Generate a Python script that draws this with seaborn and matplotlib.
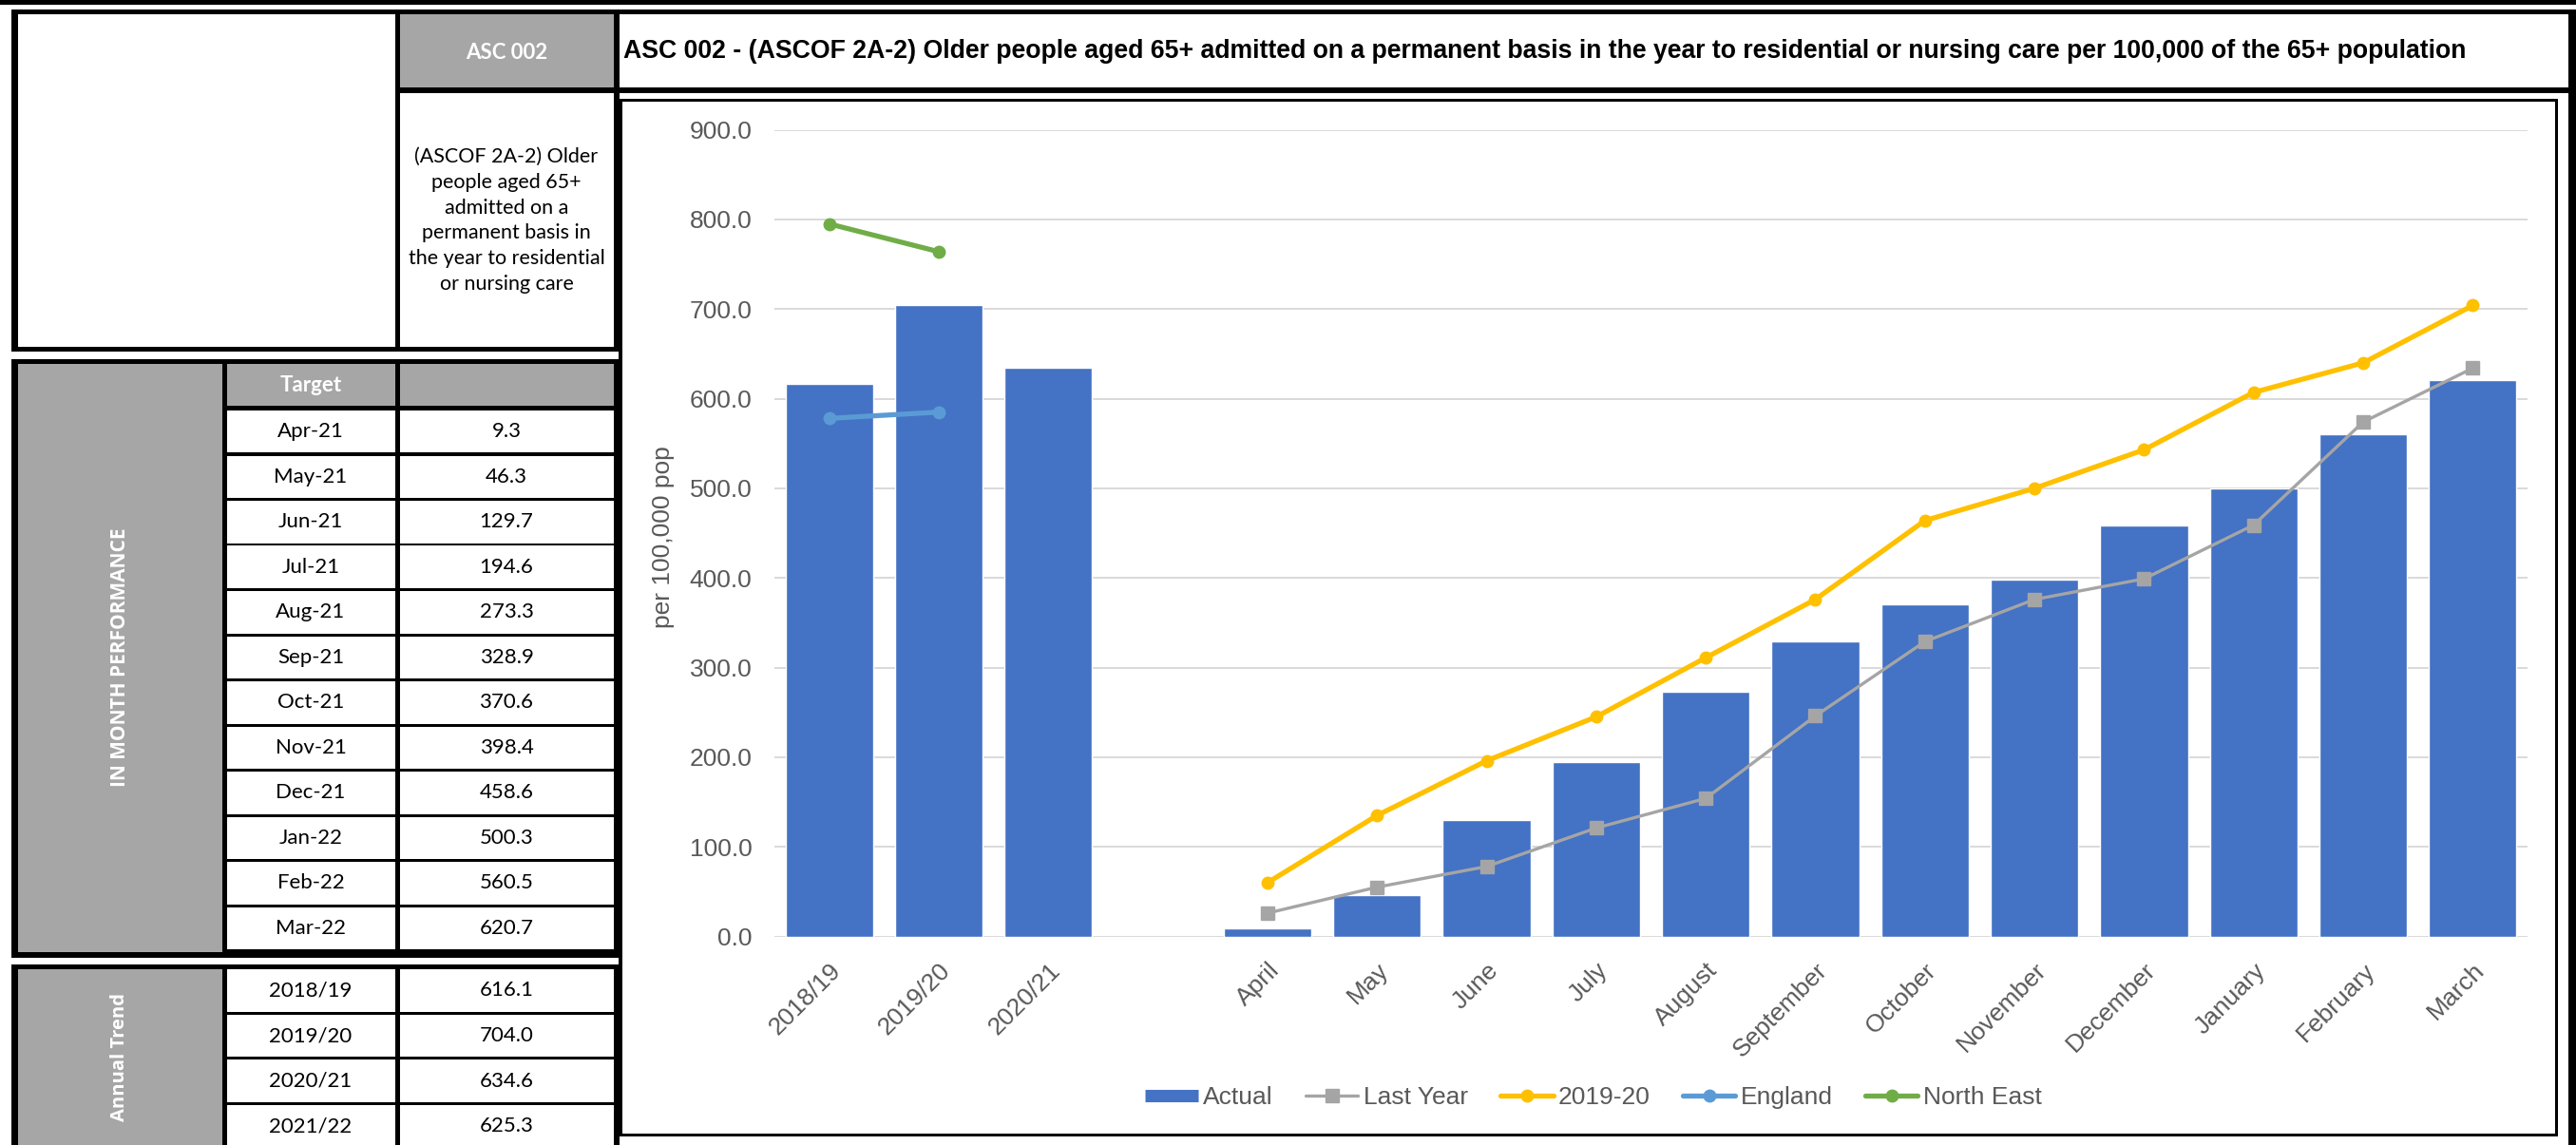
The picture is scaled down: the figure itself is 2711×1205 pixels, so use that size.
import numpy as np
import pandas as pd
import matplotlib
matplotlib.use('Agg')
import matplotlib.pyplot as plt
from matplotlib.patches import Rectangle
from matplotlib.lines import Line2D
import seaborn as sns

# =====================================
# Data
# =====================================
categories = ['2018/19', '2019/20', '2020/21', ' ', 'April', 'May', 'June', 'July',
              'August', 'September', 'October', 'November', 'December', 'January',
              'February', 'March']
actual = [616.1, 704.0, 634.6, np.nan, 9.3, 46.3, 129.7, 194.6, 273.3, 328.9,
          370.6, 398.4, 458.6, 500.3, 560.5, 620.7]

months = ['April', 'May', 'June', 'July', 'August', 'September', 'October',
          'November', 'December', 'January', 'February', 'March']
last_year = [26, 55, 78, 121, 154, 246, 329, 376, 399, 459, 574, 634]
year_2019_20 = [60, 135, 196, 245, 311, 376, 464, 500, 543, 607, 640, 704]

bench_years = ['2018/19', '2019/20']
england = [578, 585]
north_east = [795, 764]

target_months = ['Apr-21', 'May-21', 'Jun-21', 'Jul-21', 'Aug-21', 'Sep-21',
                 'Oct-21', 'Nov-21', 'Dec-21', 'Jan-22', 'Feb-22', 'Mar-22']
target_values = [9.3, 46.3, 129.7, 194.6, 273.3, 328.9, 370.6, 398.4, 458.6,
                 500.3, 560.5, 620.7]

annual_labels = ['2018/19', '2019/20', '2020/21', '2021/22']
annual_values = [616.1, 704.0, 634.6, 625.3]

title = ('ASC 002 - (ASCOF 2A-2) Older people aged 65+ admitted on a permanent basis '
         'in the year to residential or nursing care per 100,000 of the 65+ population')
description = ('(ASCOF 2A-2) Older\npeople aged 65+\nadmitted on a\npermanent basis in\n'
               'the year to residential\nor nursing care')

# colours
BLUE = '#4472C4'
GREY_LINE = '#A5A5A5'
YELLOW = '#FFC000'
ENG_BLUE = '#5B9BD5'
GREEN = '#70AD47'
CELL_GREY = '#A6A6A6'
TXT = '#595959'

# =====================================
# Figure setup
# =====================================
sns.set_theme(style='white')
plt.rcParams['font.family'] = ['Liberation Sans', 'DejaVu Sans']

W, H = 2711, 1205
fig = plt.figure(figsize=(W / 100, H / 100), dpi=100)


def box(x0, y0, x1, y1, color, z=-5):
    fig.add_artist(Rectangle((x0 / W, 1 - y1 / H), (x1 - x0) / W, (y1 - y0) / H,
                             transform=fig.transFigure, facecolor=color,
                             edgecolor='none', zorder=z))


def ftext(x, y, s, **kw):
    fig.text(x / W, 1 - y / H, s, **kw)


TABLE_FONT = ['Lato', 'DejaVu Sans']
LABEL_FONT = ['Open Sans', 'DejaVu Sans']

# outer frame bits
box(0, 0, W, 5, 'black')
box(2703, 10, W, H, 'black')

# title row
box(646, 10, W, 98, 'black')
box(652, 15, 2703, 92, 'white')
ftext(656, 54, title, fontsize=19.2, fontweight='bold', ha='left', va='center',
      color='black', family=['Liberation Sans', 'DejaVu Sans'])

# top left section
box(12, 10, 652, 370, 'black')
box(19, 15, 416, 365, 'white')
box(421, 15, 646, 92, CELL_GREY)
box(421, 98, 646, 365, 'white')
ftext(533, 55, 'ASC 002', fontsize=16, fontweight='bold', color='white',
      ha='center', va='center', family=TABLE_FONT)
ftext(533, 232, description, fontsize=15.5, color='black', ha='center',
      va='center', linespacing=1.42, family=TABLE_FONT)

# in month performance section
box(12, 378, 652, 1008, 'black')
box(19, 383, 234, 1002, CELL_GREY)
box(239, 383, 416, 427, CELL_GREY)
box(421, 383, 646, 427, CELL_GREY)
ftext(327, 406, 'Target', fontsize=16, fontweight='bold', color='white',
      ha='center', va='center', family=TABLE_FONT)
ftext(126, 692, 'IN MONTH PERFORMANCE', fontsize=15, fontweight='bold',
      color='white', rotation=90, ha='center', va='center', family=LABEL_FONT)
row_h = 47.5
for i, (m, v) in enumerate(zip(target_months, target_values)):
    top = 432 + i * row_h
    box(239, top, 416, top + row_h - 3, 'white')
    box(421, top, 646, top + row_h - 3, 'white')
    cy = top + (row_h - 3) / 2
    ftext(327, cy, m, fontsize=16, color='black', ha='center', va='center',
          family=TABLE_FONT)
    ftext(533, cy, f'{v:.1f}', fontsize=16, color='black', ha='center',
          va='center', family=TABLE_FONT)

# annual trend section
box(12, 1015, 652, H + 5, 'black')
box(19, 1020, 234, H + 5, CELL_GREY)
ftext(126, 1112, 'Annual Trend', fontsize=14.5, fontweight='bold', color='white',
      rotation=90, ha='center', va='center', family=LABEL_FONT)
row_h2 = 47.7
for i, (lab, v) in enumerate(zip(annual_labels, annual_values)):
    top = 1020 + i * row_h2
    box(239, top, 416, top + row_h2 - 3, 'white')
    box(421, top, 646, top + row_h2 - 3, 'white')
    cy = top + (row_h2 - 3) / 2
    ftext(327, cy, lab, fontsize=16, color='black', ha='center', va='center',
          family=TABLE_FONT)
    ftext(533, cy, f'{v:.1f}', fontsize=16, color='black', ha='center',
          va='center', family=TABLE_FONT)

# chart frame
box(651, 104, 2692, 1196, 'black')
box(655, 107, 2689, 1193, 'white')

# =====================================
# Chart
# =====================================
ax = fig.add_axes([815 / W, 1 - 985.5 / H, (2660 - 815) / W, (985.5 - 136.6) / H])
ax.set_zorder(1)
ax.patch.set_alpha(0)

df = pd.DataFrame({'category': categories, 'value': actual})
sns.barplot(data=df, x='category', y='value', order=categories, color=BLUE,
            saturation=1, width=0.8, errorbar=None, ax=ax, zorder=2)

pos = {c: i for i, c in enumerate(categories)}
month_x = [pos[m] for m in months]
bench_x = [pos[b] for b in bench_years]

ax.plot(month_x, last_year, color=GREY_LINE, lw=2.4, marker='s', ms=9.5,
        zorder=3)
ax.plot(month_x, year_2019_20, color=YELLOW, lw=3.8, marker='o', ms=9,
        zorder=4)
ax.plot(bench_x, england, color=ENG_BLUE, lw=3.8, marker='o', ms=9, zorder=4)
ax.plot(bench_x, north_east, color=GREEN, lw=3.8, marker='o', ms=9, zorder=4)

ax.set_xlim(-0.5, len(categories) - 0.5)
ax.set_ylim(0, 900)
ax.set_yticks(np.arange(0, 901, 100))
ax.set_yticklabels([f'{t:.1f}' for t in np.arange(0, 901, 100)])
ax.yaxis.grid(True, color='#D9D9D9', lw=1.4, zorder=0)
ax.set_axisbelow(True)
for s in ax.spines.values():
    s.set_visible(False)

ax.set_xticks(range(len(categories)))
ax.set_xticklabels(categories, rotation=45, ha='right', va='top',
                   rotation_mode='anchor')
ax.tick_params(axis='x', length=0, pad=17, labelsize=19, labelcolor=TXT)
ax.tick_params(axis='y', length=0, pad=17, labelsize=19, labelcolor=TXT)
ax.set_xlabel('')
ax.set_ylabel('per 100,000 pop', fontsize=19, color=TXT)
ax.yaxis.set_label_coords(-0.057, 0.495)

# legend
handles = [
    Line2D([], [], color=BLUE, lw=9.4, solid_capstyle='butt'),
    Line2D([], [], color=GREY_LINE, lw=2.4, marker='s', ms=10),
    Line2D([], [], color=YELLOW, lw=3.8, marker='o', ms=9),
    Line2D([], [], color=ENG_BLUE, lw=3.8, marker='o', ms=9),
    Line2D([], [], color=GREEN, lw=3.8, marker='o', ms=9),
]
labels = ['Actual', 'Last Year', '2019-20', 'England', 'North East']
fig.legend(handles, labels, loc='center', bbox_to_anchor=(1677 / W, 1 - 1155 / H),
           ncol=5, frameon=False, fontsize=19, labelcolor=TXT, handlelength=2.1,
           handletextpad=0.2, columnspacing=1.3)

fig.savefig('out.png', dpi=100)
